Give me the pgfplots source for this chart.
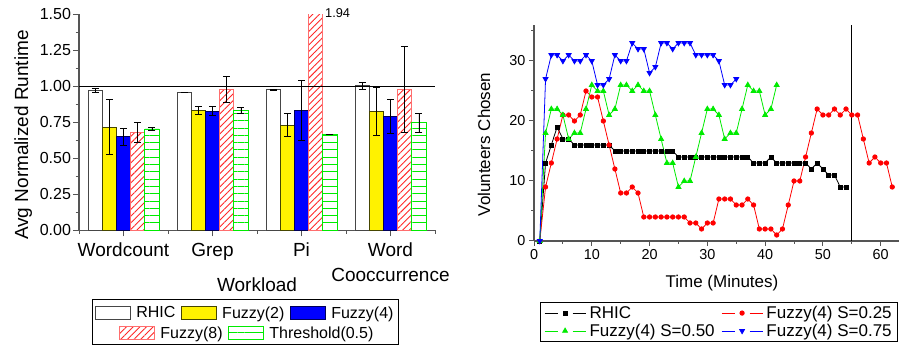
\documentclass[border=0pt]{standalone}
\usepackage{fontspec}
\setmainfont{Liberation Sans}
\usepackage{pgfplots}
\pgfplotsset{compat=1.18}
\usetikzlibrary{patterns.meta}
\definecolor{axisgray}{RGB}{85,85,85}
\definecolor{rhicedge}{RGB}{70,70,70}
\definecolor{yedge}{RGB}{70,70,0}
\definecolor{bedge}{RGB}{0,0,90}
\definecolor{fuzzyred}{RGB}{255,40,40}
\definecolor{hatchedge}{RGB}{255,110,110}
\definecolor{brightgreen}{RGB}{0,235,0}
\definecolor{lgreen}{RGB}{0,235,0}
\pgfplotsset{
  barlegend/.style={legend image code/.code={\draw[##1,bar shift=0pt] (0pt,-6.5pt) rectangle (35pt,6.5pt);}},
  linelegend/.style={legend image code/.code={
     \draw[##1,mark=none] (0pt,0pt) -- (13pt,0pt);
     \draw[##1,mark=none] (28pt,0pt) -- (41pt,0pt);
     \path[##1] plot coordinates {(20.5pt,0pt)};}},
  errb/.style={error bars/y dir=both, error bars/y explicit,
     error bars/error bar style={black,line width=0.8pt},
     error bars/error mark options={rotate=90,mark size=3.5pt,black,line width=0.8pt}},
  leftbox/.style={at={(79pt,116.7pt)}, anchor=south west, scale only axis,
     width=356pt, height=216pt},
  legrow/.style={draw=none, fill=none, font=\fontsize{16}{18}\selectfont,
     inner sep=0pt, nodes={inner xsep=1.5pt, inner ysep=1pt},
     /tikz/every odd column/.append style={column sep=4pt},
     /tikz/every even column/.append style={column sep=4pt}},
}
\begin{document}
\begin{tikzpicture}[x=1pt,y=1pt]
\path[use as bounding box] (0,0) rectangle (899,347);
% ---------------- left chart ----------------
\begin{axis}[
  leftbox,
  xmin=-0.5, xmax=3.5, ymin=0, ymax=1.5,
  axis x line*=bottom, axis y line*=left,
  axis line style={-, draw=axisgray, line width=1.2pt},
  tick style={axisgray, line width=1pt},
  tick align=outside, major tick length=6pt, minor tick length=3.5pt,
  xtick={0,1,2,3},
  xticklabels={Wordcount, Grep, Pi, {Word\\Cooccurrence}},
  minor xtick={-0.5,0.5,1.5,2.5,3.5},
  ytick={0,0.25,0.5,0.75,1,1.25,1.5},
  minor ytick={0.125,0.375,0.625,0.875,1.125,1.375},
  /pgf/number format/fixed, /pgf/number format/fixed zerofill,
  /pgf/number format/precision=2, /pgf/number format/assume math mode=true,
  xticklabel style={align=center, font=\fontsize{19}{24.5}\selectfont, yshift=-3pt},
  yticklabel style={font=\fontsize{16}{18}\selectfont, xshift=1.5pt},
  xlabel={Workload}, ylabel={Avg Normalized Runtime},
  label style={font=\fontsize{19}{22}\selectfont},
  xlabel style={at={(axis description cs:0.5,-0.253)}, anchor=center},
  ylabel style={at={(axis description cs:-0.157,0.441)}, anchor=center},
  legend columns=3,
  legend style={legrow, at={(0.4663,-0.3829)}, anchor=center},
  legend cell align=left,
]
\addplot[ybar, bar width=0.16, bar shift=0, fill=white, draw=rhicedge, line width=0.8pt, barlegend, errb]
  coordinates {(-0.32,0.972) +- (0,0.016) (0.68,0.958) +- (0,0.002) (1.68,0.976) +- (0,0.003) (2.68,1.005) +- (0,0.024)};
\addlegendentry{RHIC}
\addplot[ybar, bar width=0.16, bar shift=0, fill=yellow, draw=yedge, line width=0.8pt, barlegend, errb]
  coordinates {(-0.16,0.717) +- (0,0.19) (0.84,0.833) +- (0,0.027) (1.84,0.731) +- (0,0.08) (2.84,0.828) +- (0,0.167)};
\addlegendentry{Fuzzy(2)}
\addplot[ybar, bar width=0.16, bar shift=0, fill=blue, draw=bedge, line width=0.8pt, barlegend, errb]
  coordinates {(0,0.650) +- (0,0.06) (1,0.828) +- (0,0.03) (2,0.833) +- (0,0.21) (3,0.791) +- (0,0.116)};
\addlegendentry{Fuzzy(4)}
\addplot[ybar, bar width=0.16, bar shift=0, pattern={Lines[angle=45,distance=4.7pt,line width=0.9pt]}, pattern color=fuzzyred, draw=hatchedge, line width=0.8pt, forget plot, errb]
  coordinates {(0.16,0.680) +- (0,0.068) (1.16,0.979) +- (0,0.09) (2.16,1.94) +- (0,0) (3.16,0.979) +- (0,0.3)};
\addplot[ybar, bar width=0.16, bar shift=0, pattern={Lines[angle=0,distance=7.3pt,line width=0.9pt]}, pattern color=brightgreen, draw=brightgreen, line width=0.8pt, forget plot, errb]
  coordinates {(0.32,0.704) +- (0,0.012) (1.32,0.833) +- (0,0.023) (2.32,0.666) +- (0,0.002) (3.32,0.747) +- (0,0.065)};
\addplot[black, line width=1pt, no marks, forget plot] coordinates {(-0.5,1) (3.5,1)};
\end{axis}
% second legend row (Fuzzy(8), Threshold(0.5))
\begin{axis}[
  leftbox, hide axis, xmin=0, xmax=1, ymin=0, ymax=1,
  legend columns=2,
  legend style={legrow, at={(0.4719,-0.4755)}, anchor=center},
  legend cell align=left,
]
\addlegendimage{ybar, pattern={Lines[angle=45,distance=4.7pt,line width=0.9pt]}, pattern color=fuzzyred, draw=hatchedge, line width=0.8pt, barlegend}
\addlegendentry{Fuzzy(8)}
\addlegendimage{ybar, pattern={Lines[angle=0,distance=7.3pt,line width=0.9pt]}, pattern color=brightgreen, draw=brightgreen, line width=0.8pt, barlegend}
\addlegendentry{Threshold(0.5)}
\end{axis}
\draw[black, line width=0.8pt] (92,2.7) rectangle (398,48);
\node[anchor=west, font=\fontsize{12.8}{14}\selectfont, inner sep=0pt] at (325pt,334pt) {1.94};
% ---------------- right chart ----------------
\begin{axis}[
  at={(534pt,106pt)}, anchor=south west, scale only axis,
  width=365pt, height=216pt,
  xmin=0, xmax=63.17, ymin=0, ymax=36,
  axis x line*=bottom, axis y line*=left,
  axis line style={-, draw=axisgray, line width=1.2pt},
  tick style={axisgray, line width=1pt},
  tick align=outside, major tick length=5pt, minor tick length=3pt,
  xtick={0,10,20,30,40,50,60}, minor xtick={5,15,25,35,45,55},
  ytick={0,10,20,30}, minor ytick={5,15,25,35},
  /pgf/number format/assume math mode=true,
  ticklabel style={font=\fontsize{14.4}{17}\selectfont},
  xlabel={Time (Minutes)}, ylabel={Volunteers Chosen},
  label style={font=\fontsize{17}{20}\selectfont},
  xlabel style={at={(axis description cs:0.515,-0.196)}, anchor=center},
  ylabel style={at={(axis description cs:-0.137,0.447)}, anchor=center},
  legend columns=2,
  legend style={at={(0.506,-0.375)}, anchor=center, draw=black, line width=0.8pt,
    font=\fontsize{17}{19}\selectfont, inner xsep=4pt, inner ysep=3pt, row sep=2pt,
    nodes={inner xsep=1.5pt, inner ysep=1pt},
    /tikz/every odd column/.append style={column sep=2pt},
    /tikz/every even column/.append style={column sep=5pt}},
  legend cell align=left,
]
\addplot[black, line width=0.8pt, mark=square*, mark size=2pt, linelegend] coordinates {
(1,0)(2,13)(3,16)(4,19)(5,17)(6,17)(7,16)(8,16)(9,16)(10,16)(11,16)(12,16)(13,16)
(14,15)(15,15)(16,15)(17,15)(18,15)(19,15)(20,15)(21,15)(22,15)(23,15)(24,15)
(25,14)(26,14)(27,14)(28,14)(29,14)(30,14)(31,14)(32,14)(33,14)(34,14)(35,14)(36,14)(37,14)
(38,13)(39,13)(40,13)(41,14)(42,13)(43,13)(44,13)(45,13)(46,13)(47,13)
(48,12)(49,13)(50,12)(51,11)(52,11)(53,9)(54,9)};
\addlegendentry{RHIC}
\addplot[red, line width=0.8pt, mark=*, mark size=2.2pt, linelegend] coordinates {
(1,0)(2,9)(3,13)(4,17)(5,21)(6,21)(7,20)(8,21)(9,25)(10,24)(11,24)(12,20)(13,16)(14,12)
(15,8)(16,8)(17,9)(18,8)(19,4)(20,4)(21,4)(22,4)(23,4)(24,4)(25,4)(26,4)(27,3)(28,3)
(29,2)(30,3)(31,3)(32,7)(33,7)(34,7)(35,6)(36,6)(37,7)(38,6)(39,2)(40,2)(41,2)(42,1)
(43,2)(44,6)(45,10)(46,10)(47,14)(48,18)(49,22)(50,21)(51,21)(52,22)(53,21)(54,22)
(55,21)(56,21)(57,17)(58,13)(59,14)(60,13)(61,13)(62,9)};
\addlegendentry{Fuzzy(4) S=0.25}
\addplot[lgreen, line width=0.8pt, mark=triangle*, mark size=2.8pt, linelegend] coordinates {
(1,0)(2,18)(3,22)(4,22)(5,21)(6,17)(7,18)(8,18)(9,22)(10,26)(11,25)(12,25)(13,21)(14,22)
(15,26)(16,26)(17,25)(18,26)(19,25)(20,25)(21,21)(22,17)(23,13)(24,13)(25,9)(26,10)
(27,10)(28,14)(29,18)(30,22)(31,22)(32,21)(33,17)(34,18)(35,18)(36,22)(37,26)(38,25)
(39,25)(40,21)(41,22)(42,26)};
\addlegendentry{Fuzzy(4) S=0.50}
\addplot[blue, line width=0.8pt, mark=triangle*, mark size=2.8pt, mark options={rotate=180}, linelegend] coordinates {
(1,0)(2,27)(3,31)(4,31)(5,30)(6,31)(7,30)(8,30)(9,31)(10,30)(11,26)(12,26)(13,27)(14,31)
(15,30)(16,30)(17,33)(18,32)(19,32)(20,28)(21,29)(22,33)(23,33)(24,32)(25,33)(26,33)
(27,33)(28,31)(29,31)(30,31)(31,31)(32,30)(33,26)(34,26)(35,27)};
\addlegendentry{Fuzzy(4) S=0.75}
\addplot[black, line width=0.9pt, no marks, forget plot] coordinates {(55,0) (55,36)};
\end{axis}
\end{tikzpicture}
\end{document}
